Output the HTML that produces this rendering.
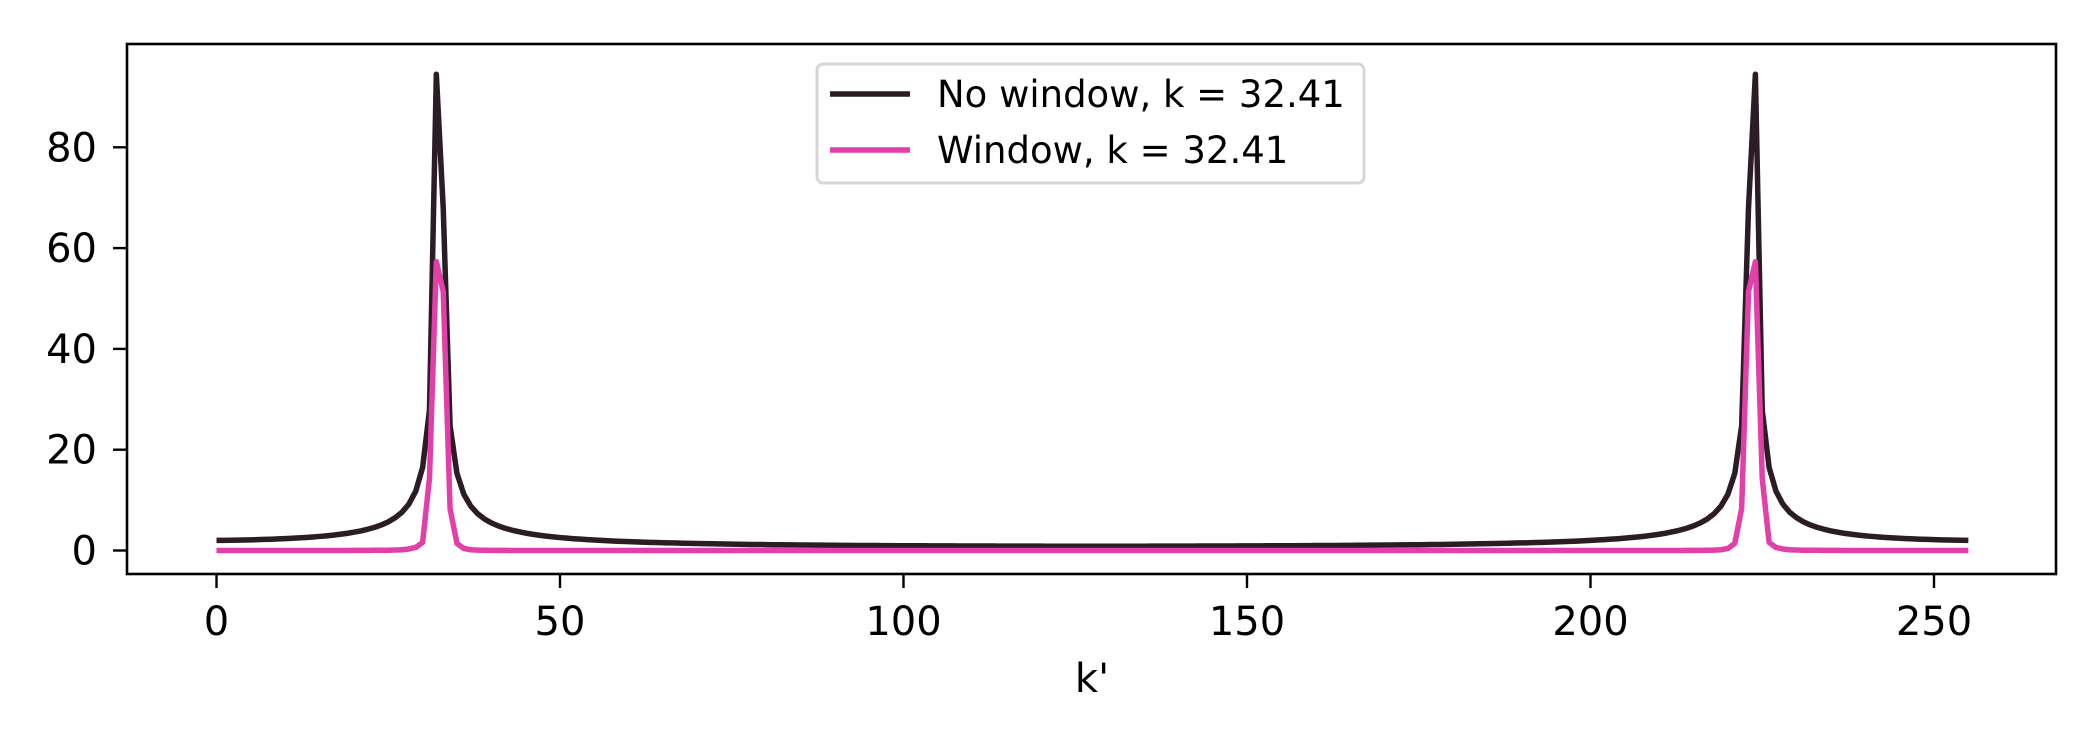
<!DOCTYPE html>
<html><head><meta charset="utf-8"><style>
html,body{margin:0;padding:0;background:#fff;}
svg{display:block;font-family:"DejaVu Sans","Liberation Sans",sans-serif;}
</style></head><body>
<svg id="chart" width="2100" height="750" viewBox="0 0 2100 750" xmlns="http://www.w3.org/2000/svg">
<rect width="2100" height="750" fill="#fff"/>
<g id="plot"></g>
<rect x="127" y="44" width="1929" height="530" fill="none" stroke="#000" stroke-width="2.6"/>
<g id="xticks"></g><g id="yticks"></g>
<text x="1092" y="692" font-size="40" text-anchor="middle">k'</text>
<g>
<rect x="817" y="64" width="547" height="119" rx="6" fill="#fff" stroke="#d6d6d6" stroke-width="3"/>
<line x1="830" y1="94" x2="910" y2="94" stroke="#2b1c25" stroke-width="5.5"/>
<text x="937" y="107" font-size="37">No window, k = 32.41</text>
<line x1="830" y1="150" x2="910" y2="150" stroke="#e23fab" stroke-width="5.5"/>
<text x="937" y="163" font-size="37">Window, k = 32.41</text>
</g>
</svg>
<script>
const xTickValues = [0, 50, 100, 150, 200, 250];
const yTickValues = [0, 20, 40, 60, 80];
const noWindow = [2.01,2.02,2.04,2.07,2.09,2.12,2.16,2.20,2.24,2.30,2.36,2.42,2.50,2.58,2.68,2.79,2.91,3.05,3.22,3.40,3.63,3.89,4.21,4.59,5.07,5.69,6.49,7.59,9.20,11.77,16.46,27.8,94.5,68,24.7,15.3,11.16,8.82,7.30,6.26,5.48,4.89,4.42,4.04,3.73,3.45,3.22,3.03,2.85,2.70,2.57,2.45,2.34,2.25,2.16,2.08,2.00,1.93,1.87,1.82,1.76,1.71,1.67,1.62,1.58,1.54,1.51,1.48,1.44,1.41,1.38,1.36,1.33,1.31,1.29,1.26,1.24,1.22,1.20,1.19,1.17,1.15,1.14,1.12,1.11,1.09,1.08,1.07,1.06,1.05,1.03,1.02,1.01,1.00,0.995,0.99,0.98,0.97,0.96,0.95,0.95,0.94,0.93,0.93,0.92,0.92,0.91,0.91,0.90,0.90,0.89,0.89,0.88,0.88,0.87,0.87,0.87,0.86,0.86,0.86,0.86,0.85,0.85,0.85,0.85,0.85,0.85,0.84,0.84,
0.84,0.85,0.85,0.85,0.85,0.85,0.85,0.86,0.86,0.86,0.86,0.87,0.87,0.87,0.88,0.88,0.89,0.89,0.90,0.90,0.91,0.91,0.92,0.92,0.93,0.93,0.94,0.95,0.95,0.96,0.97,0.98,0.99,0.995,1.00,1.01,1.02,1.03,1.05,1.06,1.07,1.08,1.09,1.11,1.12,1.14,1.15,1.17,1.19,1.20,1.22,1.24,1.26,1.29,1.31,1.33,1.36,1.38,1.41,1.44,1.48,1.51,1.54,1.58,1.62,1.67,1.71,1.76,1.82,1.87,1.93,2.00,2.08,2.16,2.25,2.34,2.45,2.57,2.70,2.85,3.03,3.22,3.45,3.73,4.04,4.42,4.89,5.48,6.26,7.30,8.82,11.16,15.3,24.7,68,94.5,27.8,16.46,11.77,9.20,7.59,6.49,5.69,5.07,4.59,4.21,3.89,3.63,3.40,3.22,3.05,2.91,2.79,2.68,2.58,2.50,2.42,2.36,2.30,2.24,2.20,2.16,2.12,2.09,2.07,2.04,2.02];
const withWindow = [0,0,0,0,0,0,0,0,0,0,0,0,0,0,0,0,0,0.01,0.01,0.01,0.02,0.02,0.03,0.04,0.05,0.06,0.1,0.15,0.3,0.6,1.6,14.3,57.3,51.4,8.3,1.4,0.4,0.15,0.08,0.05,0.03,0.02,0.02,0.01,0.01,0.01,0,0,0,0,0,0,0,0,0,0,0,0,0,0,0,0,0,0,0,0,0,0,0,0,0,0,0,0,0,0,0,0,0,0,0,0,0,0,0,0,0,0,0,0,0,0,0,0,0,0,0,0,0,0,0,0,0,0,0,0,0,0,0,0,0,0,0,0,0,0,0,0,0,0,0,0,0,0,0,0,0,0,0,0,
0,0,0,0,0,0,0,0,0,0,0,0,0,0,0,0,0,0,0,0,0,0,0,0,0,0,0,0,0,0,0,0,0,0,0,0,0,0,0,0,0,0,0,0,0,0,0,0,0,0,0,0,0,0,0,0,0,0,0,0,0,0,0,0,0,0,0,0,0,0,0,0,0,0,0,0,0,0,0,0,0,0.01,0.01,0.01,0.02,0.02,0.03,0.05,0.08,0.15,0.4,1.4,8.3,51.4,57.3,14.3,1.6,0.6,0.3,0.15,0.1,0.06,0.05,0.04,0.03,0.02,0.02,0.01,0.01,0.01,0,0,0,0,0,0,0,0,0,0,0,0,0,0,0,0].slice(0, 256);

const NS = "http://www.w3.org/2000/svg";
const xScale = v => 216.5 + v * 6.87;
const yScale = v => 550.5 - v * 5.04;

function mk(tag, attrs, parent) {
  const el = document.createElementNS(NS, tag);
  for (const k in attrs) el.setAttribute(k, attrs[k]);
  parent.appendChild(el);
  return el;
}

const xt = document.getElementById('xticks');
xTickValues.forEach(v => {
  const l = mk('line', {x1: xScale(v), x2: xScale(v), y1: 574, y2: 588, stroke: '#000', 'stroke-width': 2.4}, xt);
  
  
  const t = mk('text', {x: xScale(v), y: 635, 'font-size': 40, 'text-anchor': 'middle'}, xt);
  t.textContent = v;
  
  
});
const yt = document.getElementById('yticks');
yTickValues.forEach(v => {
  const l = mk('line', {x1: 113, x2: 127, y1: yScale(v), y2: yScale(v), stroke: '#000', 'stroke-width': 2.4}, yt);
  
  
  const t = mk('text', {x: 97, y: yScale(v) + 14, 'font-size': 40, 'text-anchor': 'end'}, yt);
  t.textContent = v;
  
  
});

const plot = document.getElementById('plot');
function pts(arr) { return arr.map((v, i) => xScale(i).toFixed(2) + ',' + yScale(v).toFixed(2)).join(' '); }
const p1 = mk('polyline', {points: pts(noWindow), fill: 'none', stroke: '#2b1c25', 'stroke-width': 5.5, 'stroke-linejoin': 'round', 'stroke-linecap': 'butt'}, plot);


const p2 = mk('polyline', {points: pts(withWindow), fill: 'none', stroke: '#e23fab', 'stroke-width': 5.5, 'stroke-linejoin': 'round', 'stroke-linecap': 'butt'}, plot);


</script>
</body></html>
